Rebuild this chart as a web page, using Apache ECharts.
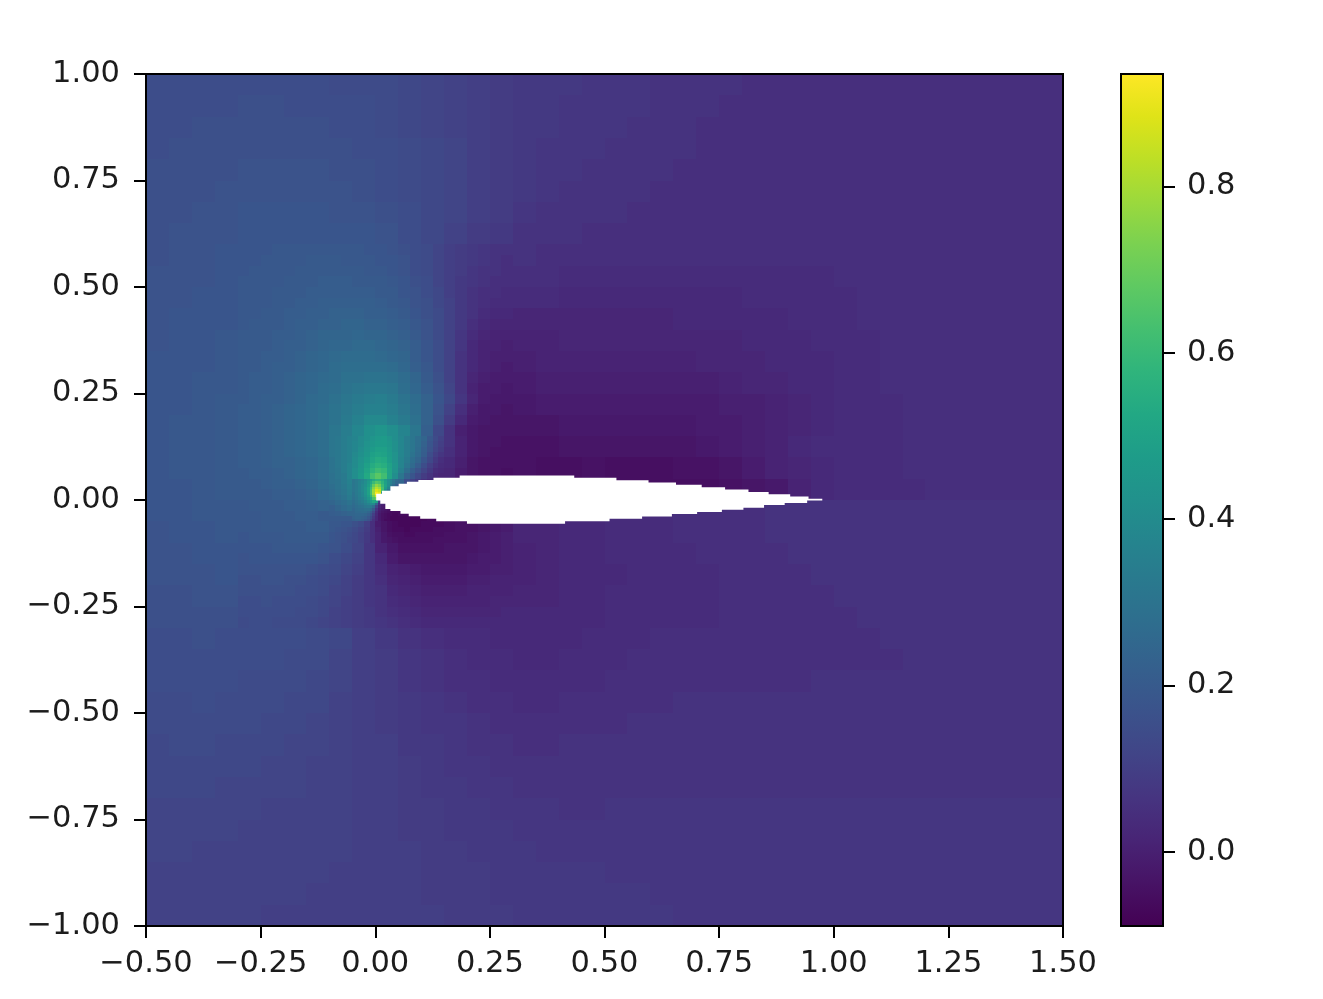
<!DOCTYPE html>
<html><head><meta charset="utf-8">
<style>html,body{margin:0;padding:0;background:#fff}#c{width:1323px;height:999px}</style>
<script src="https://cdn.jsdelivr.net/npm/echarts@6/dist/echarts.min.js"></script>
</head><body><div id="c"></div>
<script>
// Field values, in hundredths. Rows run top to bottom.
const coarseX0 = -0.5, coarseY0 = 1.0, coarseStep = 0.05;
const coarseField = [
[15,15,15,15,15,15,15,15,14,14,14,13,12,11,10,9,8,8,8,7,7,7,6,6,6,6,5,5,5,5,5,5,5,5,5,5,5,5,5,5],
[15,15,15,15,16,16,15,15,15,15,14,13,12,11,10,9,8,8,7,7,7,7,6,6,6,5,5,5,5,5,5,5,5,5,5,5,5,5,5,5],
[15,15,16,16,16,16,16,16,15,15,14,13,12,11,10,9,8,8,7,7,7,6,6,6,5,5,5,5,5,5,5,5,5,5,5,5,5,5,5,5],
[15,16,16,16,16,16,16,16,16,15,15,14,13,12,10,9,8,7,7,7,6,6,6,6,5,5,5,5,5,5,5,5,5,5,5,5,5,5,5,5],
[16,16,16,16,17,17,17,17,16,16,15,14,13,12,10,9,8,7,7,6,6,6,6,5,5,5,5,5,5,5,5,5,5,5,5,5,5,5,5,5],
[16,16,16,17,17,17,17,17,17,16,15,14,13,12,10,9,8,7,6,6,6,6,5,5,5,5,5,5,5,5,5,5,5,5,5,5,5,5,5,5],
[16,16,17,17,18,18,18,18,17,17,16,15,13,12,10,9,7,6,6,6,6,5,5,5,5,5,5,5,5,5,5,5,5,5,5,5,5,5,5,5],
[16,17,17,17,18,18,18,18,18,18,17,15,13,11,9,8,6,6,6,5,5,5,5,5,5,5,5,5,5,5,5,5,5,5,5,5,5,5,5,5],
[16,17,17,18,18,19,19,19,19,19,18,16,14,11,9,7,6,5,5,5,5,5,5,5,5,5,5,5,5,5,5,5,5,5,5,5,5,5,5,5],
[17,17,17,18,19,19,20,20,20,20,19,17,14,11,8,6,5,5,4,4,4,4,4,4,4,4,4,4,4,4,5,5,5,5,5,5,5,5,5,5],
[17,17,18,18,20,20,21,21,22,22,20,18,15,12,8,5,4,4,3,3,3,3,3,3,3,3,4,4,4,4,4,5,5,5,5,5,5,5,5,5],
[17,18,18,18,20,21,22,23,23,23,22,20,17,12,8,4,2,2,2,2,2,2,2,3,3,3,3,3,4,4,4,5,5,5,5,5,5,5,5,5],
[17,18,18,19,21,22,23,24,25,25,24,22,18,13,8,3,1,1,2,2,2,2,2,2,2,2,3,3,3,4,4,4,5,5,5,5,5,5,5,5],
[18,18,18,19,22,23,24,25,27,28,27,24,20,14,8,2,0,1,1,1,1,1,1,1,2,2,2,3,3,3,4,4,5,5,5,5,5,5,5,5],
[18,18,19,19,22,24,25,26,29,31,30,27,22,15,7,1,-1,0,0,0,0,0,0,0,0,1,2,2,3,3,4,4,5,5,5,5,5,5,5,5],
[18,18,19,20,23,24,25,27,32,34,33,30,24,14,5,-2,-2,-1,-1,-1,-1,-1,-1,-1,-1,0,0,1,2,3,4,4,4,5,5,5,5,5,5,5],
[18,19,19,20,23,24,26,29,34,38,38,34,26,12,3,-3,-3,-3,-2,-2,-2,-2,-2,-2,-1,-1,0,1,2,3,4,4,4,5,5,5,5,5,5,5],
[18,19,19,20,23,24,26,28,37,43,44,38,24,8,0,-4,-4,-4,-3,-3,-3,-3,-3,-3,-2,-1,0,1,3,4,4,4,4,5,5,5,5,5,5,5],
[18,19,19,20,23,24,26,28,40,50,53,37,14,1,-3,-4,-4,-5,-5,-4,-5,-5,-5,-4,-4,-3,-1,1,2,3,4,4,4,5,5,5,5,5,5,5],
[18,18,19,20,22,23,25,26,40,58,60,20,5,-2,-3,-5,-5,-5,-5,-5,-5,-5,-5,-5,-5,-4,-3,-2,1,3,4,4,4,4,5,5,5,5,5,5],
[18,18,19,19,22,22,23,23,34,48,-2,-5,-5,-3,-2,0,2,2,3,3,4,4,4,5,5,5,5,6,6,6,6,6,6,6,6,6,6,6,6,6],
[17,18,18,19,20,20,21,21,25,22,-3,-6,-5,-3,-2,0,2,2,3,3,4,4,4,5,5,5,5,6,6,6,6,6,6,6,6,6,6,6,6,6],
[17,17,18,18,20,20,21,20,21,15,3,-3,-3,-2,-1,0,1,2,3,3,4,4,4,4,5,5,5,5,6,6,6,6,6,6,6,6,6,6,6,6],
[17,17,17,18,19,19,19,19,18,13,5,0,-1,-1,0,0,1,2,3,3,3,4,4,4,4,5,5,5,5,6,6,6,6,6,6,6,6,6,6,6],
[16,16,17,17,18,18,18,18,16,12,7,2,1,0,0,1,2,2,3,3,4,4,4,4,4,5,5,5,5,5,6,6,6,6,6,6,6,6,6,6],
[16,16,16,16,17,17,17,16,14,11,7,4,2,1,1,2,3,3,3,3,4,4,4,4,4,5,5,5,5,5,5,6,6,6,6,6,6,6,6,6],
[15,15,16,15,15,15,15,14,13,10,8,6,5,4,4,3,3,3,3,4,4,4,5,5,5,5,5,5,5,5,5,5,6,6,6,6,6,6,6,6],
[15,15,15,15,15,15,14,14,12,10,9,7,6,5,4,4,3,3,4,4,4,5,5,5,5,5,5,5,5,5,5,5,5,6,6,6,6,6,6,6],
[15,15,15,15,14,14,14,13,12,10,9,7,6,5,5,4,4,4,4,4,5,5,5,5,5,5,5,5,5,6,6,6,6,6,6,6,6,6,6,6],
[14,14,15,14,14,14,13,13,11,10,9,8,7,6,5,5,4,4,5,5,5,5,5,6,6,6,6,6,6,6,6,6,6,6,6,6,6,6,6,6],
[14,14,14,14,14,13,13,12,11,10,9,8,7,7,6,5,5,5,5,5,5,6,6,6,6,6,6,6,6,6,6,6,6,6,6,6,6,6,6,6],
[13,14,14,13,13,13,12,12,11,10,10,8,8,7,6,6,5,5,6,6,6,6,6,6,6,6,6,6,6,6,6,6,6,6,6,6,6,6,6,6],
[13,13,13,13,13,12,12,11,11,10,10,9,8,7,7,6,6,6,6,6,6,6,6,6,6,6,6,6,6,6,6,6,6,6,6,6,6,6,6,6],
[13,13,13,12,12,12,12,11,11,10,10,9,8,8,7,7,6,6,6,6,6,6,6,6,6,6,6,6,6,6,6,6,6,6,6,6,6,6,6,6],
[12,12,12,12,12,11,11,11,11,10,10,9,9,8,8,7,7,7,6,6,7,7,7,7,7,7,7,7,7,7,7,7,7,7,7,7,7,7,7,7],
[12,12,12,12,11,11,11,11,11,10,10,9,9,8,8,8,7,7,7,7,7,7,7,7,7,7,7,7,7,7,7,7,7,7,7,7,7,7,7,7],
[12,12,11,11,11,11,11,11,11,10,10,10,9,9,8,8,8,7,7,7,7,7,7,7,7,7,7,7,7,7,7,7,7,7,7,7,7,7,7,7],
[11,11,11,11,11,11,11,11,10,10,10,10,9,9,9,8,8,8,8,8,7,7,7,7,7,7,7,7,7,7,7,7,7,7,7,7,7,7,7,7],
[11,11,11,11,11,11,11,10,10,10,10,10,9,9,9,8,8,8,8,8,8,8,7,7,7,7,7,7,7,7,7,7,7,7,7,7,7,7,7,7],
[11,11,11,11,11,10,10,10,10,10,10,10,10,9,9,9,8,8,8,8,8,8,8,7,7,7,7,7,7,7,7,7,7,7,7,7,7,7,7,7]
];
const midX0 = -0.3, midY0 = 0.6, midStep = 0.025;
const midField = [
[18,18,18,19,19,19,19,19,19,19,19,18,18,17,16,15,14,12,10,9,8,7,6,6],
[18,18,19,19,19,19,20,20,20,19,19,19,18,18,17,15,14,12,10,9,8,7,6,5],
[18,19,19,19,19,20,20,20,20,20,20,19,19,18,17,15,14,12,10,9,7,6,6,5],
[19,19,19,19,20,20,20,21,21,21,20,20,20,19,18,16,15,12,10,8,7,6,5,5],
[19,19,19,20,20,20,21,21,21,21,21,21,20,20,18,17,15,13,10,8,6,5,5,4],
[19,19,19,20,20,21,21,22,22,22,22,22,21,20,19,17,16,13,11,8,6,5,4,4],
[19,19,20,20,21,21,22,22,23,23,23,22,22,21,20,18,16,14,11,8,6,4,3,3],
[19,20,20,20,21,22,22,23,23,24,24,23,23,22,21,19,17,14,11,8,5,3,2,2],
[20,20,20,21,21,22,23,24,24,24,25,24,24,23,22,20,17,14,11,7,4,2,1,1],
[20,20,20,21,22,22,23,24,25,25,26,26,25,24,23,21,18,15,11,7,3,1,1,0],
[20,20,21,21,22,23,24,25,26,27,27,27,26,25,24,21,18,15,11,6,3,1,0,0],
[20,20,21,22,22,23,24,25,27,28,28,28,28,27,25,22,19,15,11,6,3,1,0,-1],
[20,21,21,22,23,24,25,26,27,29,29,30,30,29,27,24,20,16,11,6,2,0,-1,-1],
[20,21,21,22,23,24,25,27,28,30,31,32,32,31,28,25,21,17,12,6,1,-1,-1,-2],
[20,21,22,22,23,24,26,27,29,31,33,34,35,33,30,27,23,18,13,7,2,-1,-2,-2],
[21,21,22,23,24,25,26,28,30,32,34,36,36,34,31,28,23,17,11,5,0,-2,-2,-3],
[21,21,22,23,24,25,26,28,30,33,36,39,39,36,33,29,23,16,9,3,-1,-2,-3,-3],
[21,21,22,23,24,25,26,28,31,34,38,42,44,41,37,31,22,13,6,0,-2,-3,-3,-3],
[21,21,22,23,24,25,26,28,31,35,39,44,47,42,36,30,21,13,6,1,-2,-3,-3,-4],
[21,21,22,23,24,25,26,28,31,35,40,46,50,45,37,29,20,11,5,1,-2,-3,-4,-4],
[21,21,22,23,23,24,25,27,30,35,42,49,54,47,36,26,16,8,3,0,-3,-4,-4,-4],
[20,21,21,22,23,24,25,27,30,35,43,53,58,45,30,20,12,6,2,-1,-3,-4,-4,-5],
[20,20,21,22,22,23,24,26,29,34,44,58,70,38,15,6,2,0,-2,-3,-4,-4,-4,-5],
[20,20,20,21,21,22,23,25,27,32,40,55,50,20,5,0,-2,-3,-3,-4,-4,-4,-4,-5],
[19,20,20,20,21,21,22,23,22,24,28,35,20,0,-3,-4,-4,-4,-4,-4,-4,-4,-4,-4],
[19,19,20,20,20,21,21,20,19,16,13,7,-4,-7,-7,-6,-6,-6,-5,-5,-4,-3,-2,-1],
[19,19,20,20,20,20,21,21,20,18,14,8,-2,-5,-6,-6,-6,-5,-5,-4,-4,-3,-2,-1],
[18,19,19,19,20,20,20,20,18,16,13,7,0,-4,-5,-5,-5,-5,-4,-4,-3,-2,-1,0],
[18,18,18,19,19,19,19,18,17,15,12,7,1,-2,-4,-4,-4,-4,-3,-3,-3,-2,-1,0],
[17,18,18,18,18,18,18,17,15,13,11,7,3,-1,-3,-3,-3,-3,-3,-3,-2,-1,-1,0],
[17,17,17,17,17,17,16,15,14,12,10,7,4,1,0,-1,-2,-2,-2,-2,-1,-1,0,0],
[16,16,17,17,16,16,15,14,13,11,9,7,5,2,1,0,-1,-1,-1,-1,0,0,1,1],
[16,16,16,16,16,15,15,14,12,11,9,7,6,3,2,1,0,0,0,0,1,1,1,1],
[15,15,16,15,15,15,14,13,12,10,9,7,6,4,3,2,1,1,1,1,1,1,2,2],
[15,15,15,15,15,14,14,13,11,10,9,8,6,5,4,3,2,2,2,2,2,2,2,3],
[14,15,15,14,14,14,13,12,11,10,9,8,7,6,5,4,3,3,3,3,3,3,3,3]
];
const noseX0 = -0.1, noseY0 = 0.15, noseStep = 0.0125;
const noseField = [
[31,32,34,36,37,40,42,44,46,47,44,41,38,34,31,28,24,19,14,11],
[31,32,34,36,38,40,43,45,47,47,45,42,38,34,31,28,23,18,13,10],
[31,32,34,36,38,41,44,47,49,49,46,42,38,34,31,27,22,17,12,9],
[31,32,34,36,39,42,45,49,51,50,47,43,38,34,30,26,21,15,10,7],
[30,32,34,36,40,43,47,51,54,53,48,43,37,33,28,24,18,13,8,5],
[30,32,34,37,40,44,49,54,57,55,50,44,37,31,26,21,15,10,6,4],
[30,31,34,37,41,45,51,57,61,59,51,43,35,28,22,17,12,8,4,3],
[29,31,33,37,41,46,53,62,67,62,51,41,31,23,18,13,9,6,3,2],
[29,30,33,36,41,46,55,65,70,60,45,35,24,15,11,8,5,3,1,0],
[28,30,32,35,40,45,54,66,70,55,40,25,12,6,4,2,1,0,-1,-2],
[27,29,31,34,38,43,50,60,60,40,25,12,5,3,1,0,-1,-2,-2,-3],
[26,28,30,33,36,40,46,52,40,20,10,5,1,0,-1,-2,-2,-3,-3,-3],
[24,26,28,30,33,36,40,40,20,5,1,0,-2,-3,-3,-3,-4,-4,-4,-4],
[22,24,26,28,29,30,30,22,5,0,-2,-4,-5,-5,-5,-5,-5,-5,-5,-5],
[21,22,23,24,24,23,20,12,2,-2,-4,-5,-6,-6,-6,-6,-6,-6,-6,-6],
[20,20,20,20,19,17,13,7,0,-3,-5,-6,-7,-7,-7,-7,-7,-6,-6,-6],
[19,19,18,18,16,14,10,5,-1,-3,-5,-6,-7,-7,-7,-7,-6,-6,-6,-6],
[19,18,17,16,14,12,9,5,0,-3,-5,-6,-6,-7,-6,-6,-6,-6,-5,-5],
[18,17,16,15,13,11,8,5,1,-2,-4,-5,-5,-6,-6,-5,-5,-5,-5,-5],
[18,17,16,14,13,11,8,5,1,-2,-3,-4,-5,-5,-5,-5,-5,-5,-4,-4]
];
const fineX0 = -0.05, fineY0 = 0.05, fineStep = 0.00625;
const fineField = [
[31,33,35,37,40,44,48,53,57,57,54,48,41,36,31,27],
[31,33,36,38,41,46,52,60,66,64,57,49,42,36,30,25],
[31,33,36,39,42,48,56,68,76,72,60,50,41,33,27,22],
[31,33,36,39,43,50,60,74,82,78,63,48,38,29,23,18],
[31,33,36,39,43,50,62,78,88,84,62,42,31,23,18,13],
[30,33,35,38,43,50,62,78,93,90,40,30,25,18,14,10],
[30,32,35,38,42,48,58,72,85,30,20,15,10,8,6,4],
[29,31,34,36,40,45,52,64,70,20,12,8,5,3,2,1],
[28,30,32,34,37,41,46,52,50,10,5,3,1,0,-1,-2],
[27,29,31,32,35,37,40,40,25,5,2,0,-2,-3,-4,-4],
[26,28,29,30,32,33,33,28,12,2,-1,-2,-3,-4,-5,-5],
[25,27,28,28,29,29,27,20,7,0,-2,-3,-4,-5,-5,-6],
[24,26,26,27,27,25,21,14,4,-1,-3,-4,-5,-6,-6,-6],
[24,25,25,25,24,22,17,10,3,-2,-4,-5,-6,-6,-7,-7],
[23,24,24,23,22,19,14,8,2,-2,-4,-5,-6,-7,-7,-7],
[22,23,23,22,20,17,12,6,2,-2,-4,-6,-6,-7,-7,-7]
];
// Airfoil outline: each knot starts a step level.
const upperX = [0,0.002,0.0146,0.033,0.051,0.069,0.094,0.127,0.184,0.434,0.526,0.596,0.656,0.712,0.763,0.814,0.858,0.905,0.945,0.975];
const upperY = [0,0.0146,0.022,0.032,0.038,0.043,0.047,0.052,0.0575,0.052,0.0465,0.041,0.0357,0.030,0.0246,0.019,0.0136,0.008,0.003,0];
const lowerX = [0,0.002,0.011,0.022,0.033,0.055,0.073,0.098,0.133,0.200,0.414,0.511,0.582,0.647,0.702,0.756,0.803,0.848,0.893,0.942,0.975];
const lowerY = [0,-0.001,-0.009,-0.021,-0.026,-0.032,-0.038,-0.044,-0.050,-0.056,-0.050,-0.044,-0.039,-0.033,-0.028,-0.023,-0.018,-0.012,-0.007,-0.001,0];

const xTicks = [-0.5,-0.25,0,0.25,0.5,0.75,1,1.25,1.5];
const yTicks = [-1,-0.75,-0.5,-0.25,0,0.25,0.5,0.75,1];
const barTicks = [0,0.2,0.4,0.6,0.8];
const valueMin = -0.089, valueMax = 0.935;
const viridis = ['#440154','#471365','#482475','#463480','#414487','#3b528b','#355f8d','#2f6c8e','#2a788e','#25848e','#21918c','#1e9c89','#22a884','#2fb47c','#44bf70','#5ec962','#7ad151','#9bd93c','#bddf26','#dfe318','#fde725'];

function cells(field, x0, y0, step) {
  const out = [];
  field.forEach((row, r) => row.forEach((v, c) => {
    out.push([x0 + c * step, x0 + (c + 1) * step, y0 - r * step, y0 - (r + 1) * step, v / 100]);
  }));
  return out;
}
const fieldData = [].concat(
  cells(coarseField, coarseX0, coarseY0, coarseStep),
  cells(midField, midX0, midY0, midStep),
  cells(noseField, noseX0, noseY0, noseStep),
  cells(fineField, fineX0, fineY0, fineStep)
);
const minus = s => s.replace('-', '\u2212');
const TXT = '#1c1c1c', FONT = 'DejaVu Sans', FS = 30.5;
const tick = {show:true, length:12, lineStyle:{color:'#000', width:2}};
const noLine = {show:false, onZero:false};
const frameItem = (p, api) => {
  const a = api.coord([api.value(0), api.value(2)]);
  const b = api.coord([api.value(1), api.value(3)]);
  return {type:'rect', shape:{x:a[0], y:b[1], width:b[0]-a[0], height:a[1]-b[1]},
    style:{fill:'none', stroke:'#000', lineWidth:2}, z2:100};
};
const option = {
  animation:false, backgroundColor:'#fff',
  grid:[
    {left:146, top:74, width:917, height:852},
    {left:1121, top:74, width:42, height:852}
  ],
  xAxis:[
    {type:'value', gridIndex:0, min:-0.5, max:1.5, interval:0.25, z:10, splitLine:{show:false},
     axisLine:noLine, axisTick:tick,
     axisLabel:{show:true, showMinLabel:true, showMaxLabel:true, hideOverlap:false, customValues:xTicks, margin:23, color:TXT, fontFamily:FONT, fontSize:FS,
       formatter:v=>minus(v.toFixed(2))}},
    {type:'value', gridIndex:1, min:0, max:1, show:false, axisLine:noLine}
  ],
  yAxis:[
    {type:'value', gridIndex:0, min:-1, max:1, interval:0.25, z:10, splitLine:{show:false},
     axisLine:noLine, axisTick:tick,
     axisLabel:{show:true, showMinLabel:true, showMaxLabel:true, hideOverlap:false, customValues:yTicks, margin:26, color:TXT, fontFamily:FONT, fontSize:FS,
       padding:[5,0,0,0], formatter:v=>minus(v.toFixed(2))}},
    {type:'value', gridIndex:1, position:'right', min:valueMin, max:valueMax, z:10, splitLine:{show:false},
     axisLine:noLine, axisTick:Object.assign({customValues:barTicks}, tick),
     axisLabel:{show:true, customValues:barTicks, margin:24, color:TXT, fontFamily:FONT, fontSize:FS,
       padding:[5,0,0,0], formatter:v=>v.toFixed(1)}}
  ],
  visualMap:[{show:false, type:'continuous', min:valueMin, max:valueMax, dimension:4, seriesIndex:0, inRange:{color:viridis}}],
  series:[
    {type:'custom', name:'field', xAxisIndex:0, yAxisIndex:0, progressive:0, silent:true, clip:true,
     encode:{x:[0,1], y:[2,3]}, data:fieldData,
     renderItem(p, api){
       const a = api.coord([api.value(0), api.value(2)]);
       const b = api.coord([api.value(1), api.value(3)]);
       const x0 = Math.round(a[0]), x1 = Math.round(b[0]), y0 = Math.round(a[1]), y1 = Math.round(b[1]);
       return {type:'rect', shape:{x:x0, y:y0, width:x1-x0, height:y1-y0},
         style:{fill:api.visual('color')}};
     }},
    {type:'custom', name:'airfoil', xAxisIndex:0, yAxisIndex:0, silent:true, z:3, data:[[0,0]],
     renderItem(p, api){
       const pts = [];
       upperX.forEach((x,i)=>{ pts.push(api.coord([x, upperY[i]]));
         if(i<upperX.length-1) pts.push(api.coord([upperX[i+1], upperY[i]])); });
       for(let i=lowerX.length-1;i>=0;i--){ 
         if(i<lowerX.length-1) pts.push(api.coord([lowerX[i+1], lowerY[i]]));
         pts.push(api.coord([lowerX[i], lowerY[i]])); }
       return {type:'polygon', shape:{points:pts}, style:{fill:'#fff'}};
     }},
    {type:'custom', name:'frame', xAxisIndex:0, yAxisIndex:0, silent:true, z:5, encode:{x:[0,1], y:[2,3]},
     data:[[-0.5,1.5,-1,1]], renderItem:frameItem},
    {type:'custom', name:'colorbar', xAxisIndex:1, yAxisIndex:1, silent:true, z:3, encode:{x:[0,1], y:[2,3]},
     data:[[0,1,valueMin,valueMax]],
     renderItem(p, api){
       const a = api.coord([api.value(0), api.value(2)]);
       const b = api.coord([api.value(1), api.value(3)]);
       const stops = viridis.map((c,i)=>({offset:i/(viridis.length-1), color:c}));
       return {type:'rect', shape:{x:a[0], y:b[1], width:b[0]-a[0], height:a[1]-b[1]},
         style:{fill:new echarts.graphic.LinearGradient(0,1,0,0,stops)}};
     }},
    {type:'custom', name:'colorbarFrame', xAxisIndex:1, yAxisIndex:1, silent:true, z:5, encode:{x:[0,1], y:[2,3]},
     data:[[0,1,valueMin,valueMax]], renderItem:frameItem}
  ]
};
echarts.init(document.getElementById('c'), null, {renderer:'canvas'}).setOption(option);
</script></body></html>
